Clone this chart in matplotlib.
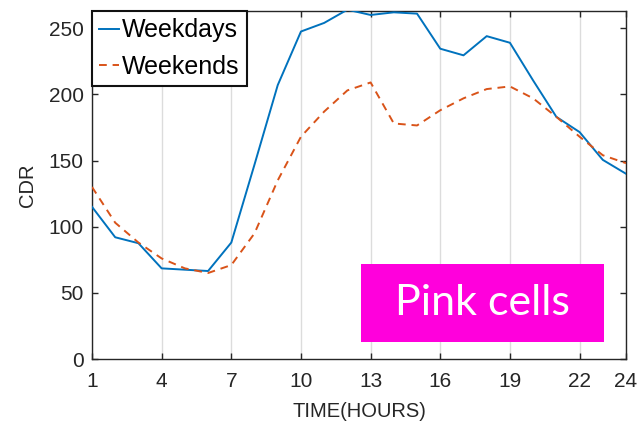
import numpy as np
import matplotlib
matplotlib.use("Agg")
import matplotlib.pyplot as plt
from matplotlib.patches import Rectangle

hours = list(range(1, 25))
weekdays = [115, 92, 87.5, 68.5, 67.5, 66.5, 88, 147, 207, 247.5, 254, 264,
            260, 262, 261, 234.5, 229.5, 244, 239, 210.5, 183, 171.5, 150.5, 140]
weekends = [130, 103, 88, 76, 68.5, 65, 71, 95, 135, 168, 187, 203,
            209, 178, 176.5, 188, 197, 204, 206, 197, 183, 168, 154, 148]
xtick_vals = [1, 4, 7, 10, 13, 16, 19, 22, 24]
ytick_vals = [0, 50, 100, 150, 200, 250]

plt.rcParams['font.family'] = ['Liberation Sans', 'DejaVu Sans']

fig = plt.figure(figsize=(6.38, 4.28), dpi=100)
ax = fig.add_axes([0.1442, 0.1612, 0.9812 - 0.1442, 0.9743 - 0.1612])

ax.plot(hours, weekdays, color='#0072BD', lw=1.4, label='Weekdays', zorder=3)
ax.plot(hours, weekends, color='#D95319', lw=1.4, ls=(0, (4, 3)), label='Weekends', zorder=3)

ax.set_xlim(1, 24)
ax.set_ylim(0, 263)
ax.set_xticks(xtick_vals)
ax.set_yticks(ytick_vals)
ax.xaxis.grid(True, color='#dcdcdc', lw=1)
ax.set_axisbelow(True)
ax.tick_params(direction='in', length=4, width=1, top=True, right=True,
               labelsize=15, colors='#262626')
ax.tick_params(axis='x', pad=9)
ax.tick_params(axis='y', pad=6)
for s in ax.spines.values():
    s.set_color('#262626')
    s.set_linewidth(1)

ax.set_xlabel('TIME(HOURS)', fontsize=14.5, color='#262626', labelpad=8)
ax.set_ylabel('CDR', fontsize=14.5, color='#262626', labelpad=8)

leg = ax.legend(loc='upper left', bbox_to_anchor=(0, 1), borderaxespad=0,
                fontsize=18, handlelength=0.8, handletextpad=0.1,
                borderpad=0.3, labelspacing=0.5, fancybox=False, framealpha=1)
leg.get_frame().set_edgecolor('#111111')
leg.get_frame().set_linewidth(1.5)

# pink label box
fig.add_artist(Rectangle((361 / 638, 1 - 342 / 428), 243 / 638, 78 / 428,
                         transform=fig.transFigure, facecolor='#ff00dc',
                         edgecolor='none', zorder=5))
fig.text((361 + 604) / 2 / 638, 1 - 303 / 428, 'Pink cells', color='white',
         fontsize=31, family='Lato', ha='center', va='center', zorder=6)

fig.savefig('out.png', dpi=100)
